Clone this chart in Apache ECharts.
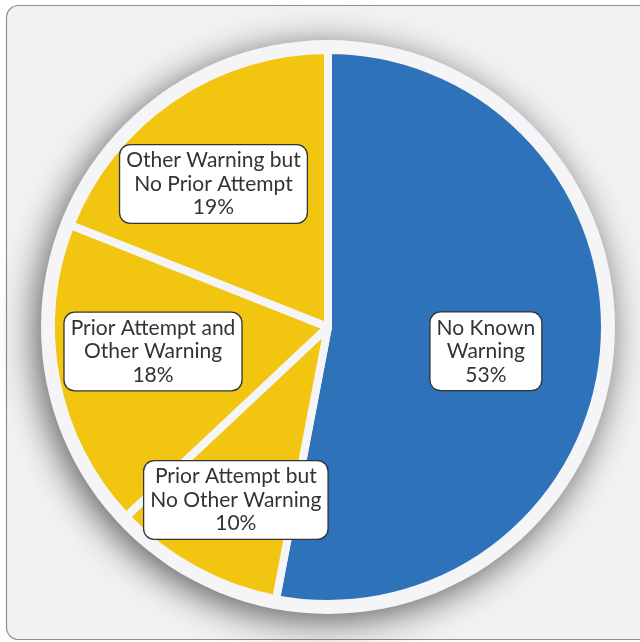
<!DOCTYPE html>
<html>
<head>
<meta charset="utf-8">
<script src="https://cdn.jsdelivr.net/npm/echarts@6/dist/echarts.min.js"></script>
<style>
html,body{margin:0;padding:0;background:#ffffff;}
#chart{width:640px;height:642px;}
</style>
</head>
<body>
<div id="chart"></div>
<script>
// Data
var categories = [
  'No Known\nWarning',
  'Prior Attempt but\nNo Other Warning',
  'Prior Attempt and\nOther Warning',
  'Other Warning but\nNo Prior Attempt'
];
var percentages = [53, 10, 18, 19];

// Styling
var sliceColors = ['#2E73BA', '#F2C511', '#F2C511', '#F2C511'];
var labelShift = [[17, 11], [-24, 49], [-36, -2], [-35, -26]];

var chart = echarts.init(document.getElementById('chart'), null, {renderer: 'canvas'});

var pieData = categories.map(function (name, i) {
  return { name: name, value: percentages[i], itemStyle: { color: sliceColors[i] } };
});

var option = {
  animation: false,
  graphic: [{
    type: 'rect',
    z: -10,
    shape: { x: 6.5, y: 5.5, width: 660, height: 634, r: 12 },
    style: { fill: '#f2f2f4', stroke: '#8f8f8f', lineWidth: 1.2 }
  }],
  series: [
    {
      type: 'pie',
      silent: true,
      center: [328, 327],
      radius: [0, 287],
      z: 1,
      label: { show: false },
      labelLine: { show: false },
      itemStyle: {
        color: '#f5f5f7',
        shadowBlur: 36,
        shadowColor: 'rgba(0,0,0,0.62)',
        shadowOffsetX: -5,
        shadowOffsetY: 7
      },
      data: [{ value: 1, name: '' }]
    },
    {
      type: 'pie',
      center: [328, 327],
      radius: [0, 277],
      startAngle: 90,
      clockwise: true,
      z: 2,
      avoidLabelOverlap: false,
      itemStyle: { borderColor: '#f5f5f7', borderWidth: 8 },
      label: {
        show: true,
        position: 'inside',
        formatter: function (p) { return p.name + '\n' + p.value + '%'; },
        fontFamily: 'Lato',
        fontSize: 21,
        lineHeight: 23.5,
        color: '#333333',
        backgroundColor: '#ffffff',
        borderColor: '#333333',
        borderWidth: 1.3,
        borderRadius: 10,
        padding: [4, 6, 3, 6],
        align: 'center'
      },
      labelLine: { show: false },
      labelLayout: function (params) {
        var s = labelShift[params.dataIndex];
        return { dx: s[0], dy: s[1] };
      },
      data: pieData
    }
  ]
};
chart.setOption(option);
</script>
</body>
</html>
